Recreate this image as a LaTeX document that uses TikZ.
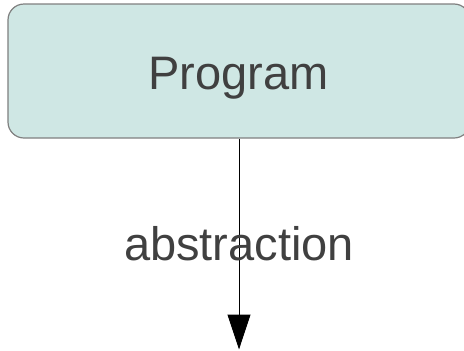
\documentclass[tikz,border=0pt]{standalone}
\usepackage{fontspec}
\setmainfont{Liberation Sans}
\usetikzlibrary{arrows.meta}
\definecolor{boxfill}{HTML}{CFE7E4}
\definecolor{boxline}{HTML}{808080}
\definecolor{txtgray}{HTML}{404040}
\tikzset{
	progbox/.style={draw=boxline, fill=boxfill, line width=1.2bp, rounded corners=16bp,
		minimum width=462bp, minimum height=134bp, inner sep=0pt},
	bigtext/.style={text=txtgray, inner sep=0pt, font=\fontsize{47bp}{56bp}\selectfont}
}

\begin{document}
\begin{tikzpicture}[x=1bp,y=1bp]
		\useasboundingbox (0,0) rectangle (464,-350);
		\clip (0,0) rectangle (464,-350);
		\node[progbox] (prog) at (239,-71) {};
		\node[bigtext, anchor=base] (progtext) at (238.5,-89) {Program};
		\coordinate (bottom) at (239,-349.5);
		\draw[-{Triangle[width=23bp,length=35bp]}, line width=1bp] (prog.south) -- (bottom);
		\node[bigtext, anchor=base] (abstr) at (239,-260) {abstraction};
		\end{tikzpicture}
\end{document}
